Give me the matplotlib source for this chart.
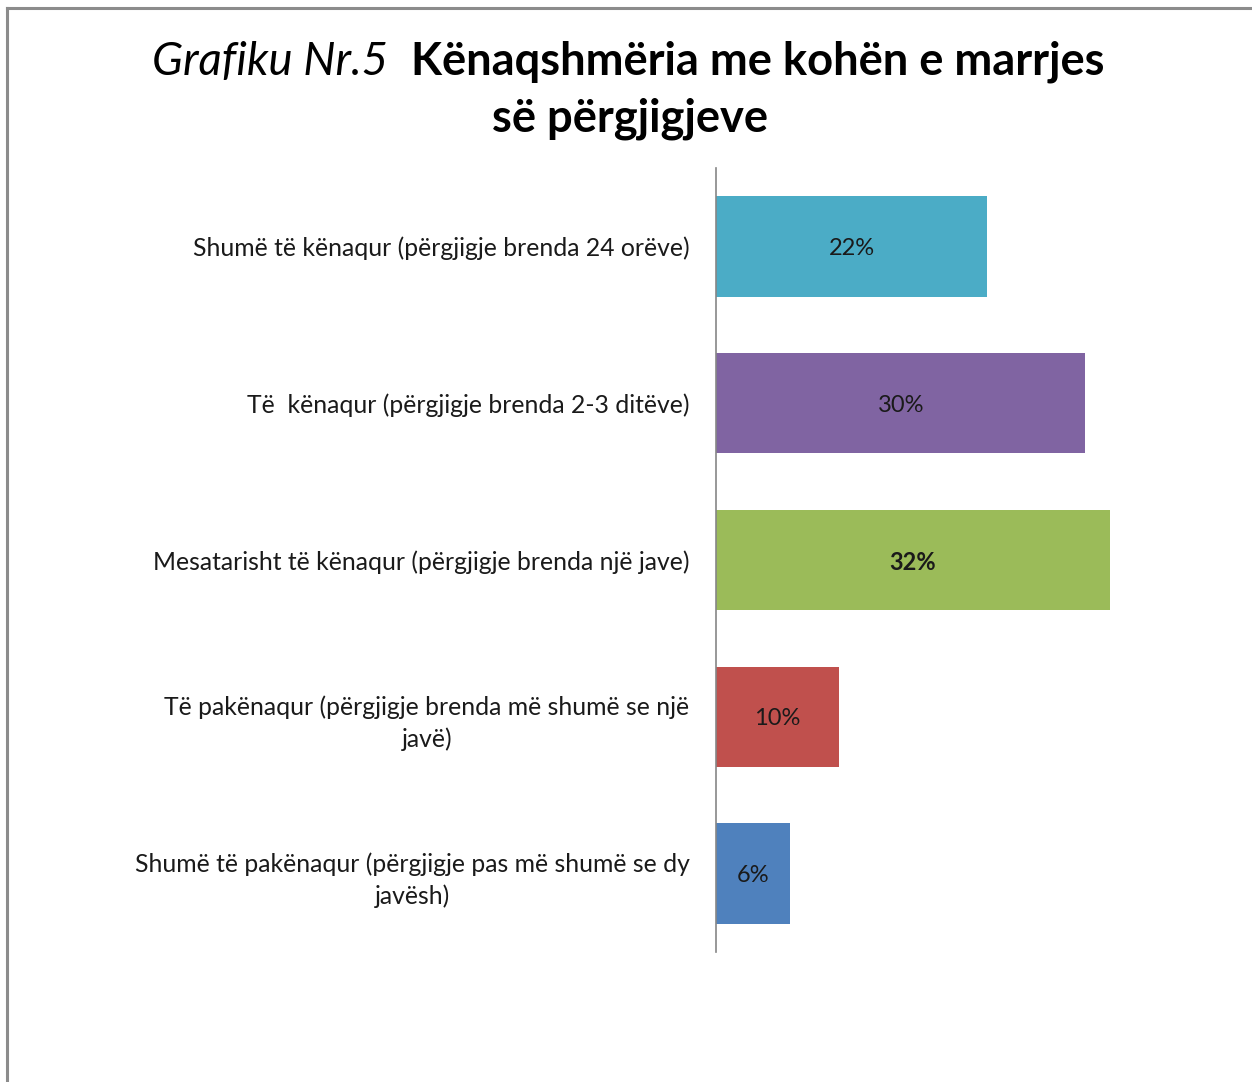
import matplotlib
matplotlib.use("Agg")
import matplotlib.pyplot as plt
from matplotlib.lines import Line2D

categories = [
    "Shumë të kënaqur (përgjigje brenda 24 orëve)",
    "Të  kënaqur (përgjigje brenda 2-3 ditëve)",
    "Mesatarisht të kënaqur (përgjigje brenda një jave)",
    "Të pakënaqur (përgjigje brenda më shumë se një\njavë)",
    "Shumë të pakënaqur (përgjigje pas më shumë se dy\njavësh)",
]
values = [22, 30, 32, 10, 6]
value_labels = ["22%", "30%", "32%", "10%", "6%"]
bold_labels = [False, False, True, False, False]
colors = ["#4BACC6", "#8064A2", "#9BBB59", "#C0504D", "#4F81BD"]
title_prefix = "Grafiku Nr.5"
title_line1 = "Kënaqshmëria me kohën e marrjes"
title_line2 = "së përgjigjeve"

FONT = ["Lato", "DejaVu Sans"]
W, H = 1252, 1082
fig = plt.figure(figsize=(W / 100, H / 100), dpi=100)
fig.patch.set_facecolor("white")

# border (left and top)
fig.add_artist(Line2D([7 / W, 7 / W], [0, 1 - 8 / H], color="#8c8c8c", lw=2.2, transform=fig.transFigure))
fig.add_artist(Line2D([7 / W, 1], [1 - 8 / H, 1 - 8 / H], color="#8c8c8c", lw=2.2, transform=fig.transFigure))

ax = fig.add_axes([716 / W, (H - 952) / H, 431 / W, 784 / H])
y = list(range(len(categories)))
ax.barh(y, values, height=0.64, color=colors, edgecolor="none")
ax.set_ylim(len(categories) - 0.5, -0.5)
ax.set_xlim(0, 35)
ax.set_yticks(y)
ax.set_yticklabels(categories, fontsize=17.8, family=FONT, color="#1a1a1a",
                   ha="right", multialignment="center", linespacing=1.45)
ax.tick_params(axis="y", length=0, pad=19)
ax.set_xticks([])
for s in ["top", "right", "bottom"]:
    ax.spines[s].set_visible(False)
ax.spines["left"].set_color("#868686")
ax.spines["left"].set_linewidth(1.2)

for yi, v, lab, b in zip(y, values, value_labels, bold_labels):
    ax.text(v / 2, yi, lab, ha="center", va="center_baseline", fontsize=17, family=FONT,
            fontweight="bold" if b else "normal", color="#1a1a1a")

fig.text(388 / W, 1 - 62 / H, title_prefix, ha="right", va="center", fontsize=32.8,
         family=FONT, style="italic", color="black")
fig.text(411 / W, 1 - 62 / H, title_line1, ha="left", va="center", fontsize=32.6,
         family=FONT, fontweight="bold", color="black")
fig.text(630 / W, 1 - 119 / H, title_line2, ha="center", va="center", fontsize=32.6,
         family=FONT, fontweight="bold", color="black")

fig.savefig("out.png", dpi=100, facecolor="white")
